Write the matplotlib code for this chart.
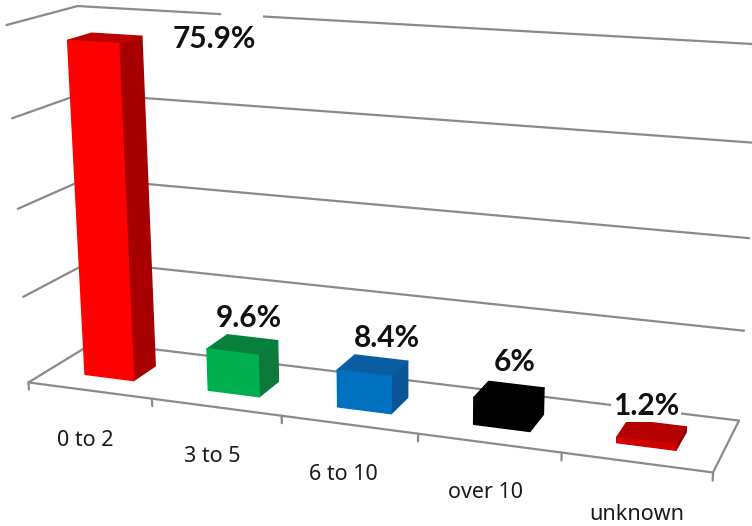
import numpy as np
import matplotlib
matplotlib.use("Agg")
import matplotlib.pyplot as plt
from matplotlib.patches import Polygon, Rectangle

# --- data ---
categories = ["0 to 2", "3 to 5", "6 to 10", "over 10", "unknown"]
values = [75.9, 9.6, 8.4, 6.0, 1.2]
value_labels = ["75.9%", "9.6%", "8.4%", "6%", "1.2%"]
grid_values = [0, 20, 40, 60, 80]

# --- styles ---
front_colors = ["#FF0000", "#00B050", "#0070C0", "#000000", "#D00000"]
side_colors = ["#A80000", "#0B7A3B", "#0A5596", "#000000", "#8E0000"]
top_colors = ["#BE0000", "#07803C", "#0A5CA3", "#000000", "#B40000"]
value_label_xy = [(214, 39), (249, 318), (387, 338), (515, 362), (646, 406)]
cat_label_xy = [(85, 440), (212, 456), (343, 475), (485, 493), (637, 514)]
GRID = "#8A8A8A"

# --- perspective camera: scene (x, depth, value) -> image pixels, calibrated on chart frame ---
n = len(categories)
top = grid_values[-1]
calib = [((0, 0, 0), (28, 382)), ((n, 0, 0), (713, 473)),
         ((0, 1, 0), (95, 342.5)), ((n, 1, 0), (739, 420)),
         ((0, 1, top), (77, 6)), ((n, 1, top), (760, 44.5)),
         ((0, 0, top), (7, 25))]
A = []
for (X, Y, Z), (u, v) in calib:
    A.append([X, Y, Z, 1, 0, 0, 0, 0, -u * X, -u * Y, -u * Z, -u])
    A.append([0, 0, 0, 0, X, Y, Z, 1, -v * X, -v * Y, -v * Z, -v])
P = np.linalg.svd(np.array(A, float))[2][-1].reshape(3, 4)


def proj(x, d, z):
    h = P @ np.array([x, d, z, 1.0])
    return h[0] / h[2], h[1] / h[2]


fig = plt.figure(figsize=(7.52, 5.26), dpi=100)
ax = fig.add_axes([0, 0, 1, 1])
ax.set_xlim(0, 752)
ax.set_ylim(526, 0)
ax.axis("off")


def line(a, b, z=1, lw=1.6):
    ax.plot(*zip(proj(*a), proj(*b)), color=GRID, lw=lw, zorder=z, solid_capstyle="round")


for g in grid_values:
    line((0, 0, g), (0, 1, g))
    line((0, 1, g), (n, 1, g))
line((n, 1, 0), (n, 0, 0))
line((0, 0, 0), (n, 0, 0))
for i in range(n + 1):
    line((i, 0, 0), (i, 0, -1.7))

# the white box of the first value label interrupts the top gridline
ax.add_patch(Rectangle((221, 4), 42, 22, fc="white", ec="none", zorder=2))

bw0, bw1, d0, d1 = 0.3, 0.7, 0.3, 0.65
for i, v in enumerate(values):
    x0, x1 = i + bw0, i + bw1
    faces = [
        ([(x1, d0, 0), (x1, d1, 0), (x1, d1, v), (x1, d0, v)], side_colors[i]),
        ([(x0, d0, v), (x1, d0, v), (x1, d1, v), (x0, d1, v)], top_colors[i]),
        ([(x0, d0, 0), (x1, d0, 0), (x1, d0, v), (x0, d0, v)], front_colors[i]),
    ]
    for pts, c in faces:
        ax.add_patch(Polygon([proj(*p) for p in pts], closed=True, fc=c, ec=c, lw=1.0,
                             joinstyle="round", zorder=3))

for lab, (x, y) in zip(value_labels, value_label_xy):
    ax.text(x, y, lab, ha="center", va="center", family="Lato", weight="bold", fontsize=21.5,
            color="#111111", zorder=5,
            bbox=dict(fc="white", ec="none", pad=1.5))
for lab, (x, y) in zip(categories, cat_label_xy):
    ax.text(x, y, lab, ha="center", va="center", family="Noto Sans", fontsize=15.5, color="#1a1a1a", zorder=5)

fig.savefig("out.png", dpi=100)
